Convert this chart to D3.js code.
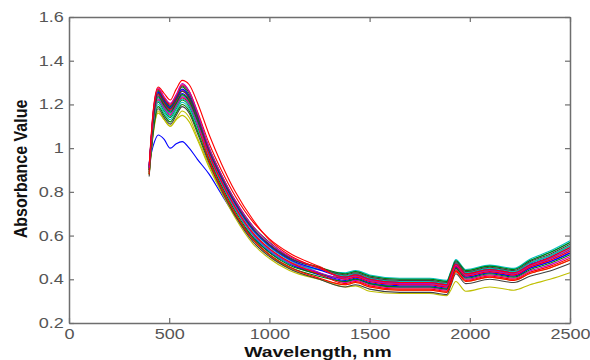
<!DOCTYPE html>
<html>
<head>
<meta charset="utf-8">
<script src="https://cdn.jsdelivr.net/npm/d3@7"></script>
<style>
  html, body { margin: 0; padding: 0; background: #fff; }
  svg { display: block; }
  text { font-family: "Liberation Sans", Arial, sans-serif; }
</style>
</head>
<body>
<svg id="chart" width="590" height="360"></svg>
<script>
// Wavelength grid (nm) shared by all spectra
const wavelengths = [400, 420, 445, 475, 505, 535, 565, 600, 640, 700, 760, 830, 920, 1000, 1100,
  1250, 1380, 1430, 1500, 1650, 1800, 1885, 1905, 1930, 1980, 2100, 2220, 2300, 2400, 2500];

// Individual spectra (absorbance values)
const specBlueLow = [0.93, 1.01, 1.06, 1.04, 1.00, 1.02, 1.03, 1.00, 0.95, 0.88, 0.79, 0.69, 0.59, 0.525, 0.47,
  0.42, 0.39, 0.40, 0.38, 0.365, 0.365, 0.355, 0.40, 0.455, 0.41, 0.43, 0.415, 0.45, 0.48, 0.52];
const specGreenA = [0.91, 1.15, 1.26, 1.22, 1.19, 1.23, 1.28, 1.24, 1.15, 1.00, 0.88, 0.76, 0.64, 0.57, 0.50,
  0.455, 0.415, 0.425, 0.405, 0.39, 0.39, 0.38, 0.42, 0.475, 0.43, 0.45, 0.435, 0.474, 0.508, 0.552];
const specRedTop = [0.92, 1.17, 1.28, 1.25, 1.22, 1.27, 1.31, 1.29, 1.21, 1.06, 0.93, 0.80, 0.67, 0.58, 0.51,
  0.45, 0.41, 0.42, 0.40, 0.385, 0.385, 0.375, 0.42, 0.47, 0.425, 0.445, 0.43, 0.465, 0.50, 0.545];
const specCyanC = [0.90, 1.12, 1.23, 1.19, 1.16, 1.20, 1.24, 1.21, 1.12, 0.97, 0.85, 0.73, 0.61, 0.54, 0.48,
  0.445, 0.425, 0.435, 0.415, 0.40, 0.40, 0.39, 0.43, 0.485, 0.44, 0.46, 0.445, 0.486, 0.522, 0.568];
const specMagentaD = [0.92, 1.14, 1.25, 1.21, 1.18, 1.22, 1.265, 1.23, 1.14, 0.98, 0.86, 0.74, 0.62, 0.55, 0.488,
  0.43, 0.385, 0.395, 0.375, 0.36, 0.36, 0.35, 0.39, 0.445, 0.40, 0.42, 0.405, 0.438, 0.466, 0.504];
const specYellowLow = [0.88, 1.07, 1.16, 1.13, 1.10, 1.13, 1.15, 1.12, 1.04, 0.91, 0.80, 0.69, 0.58, 0.51, 0.45,
  0.40, 0.365, 0.37, 0.345, 0.335, 0.335, 0.325, 0.35, 0.39, 0.345, 0.365, 0.35, 0.375, 0.40, 0.43];
const specBlackShort = [0.91, 1.14, 1.25, 1.21, 1.18, 1.22, 1.26, 1.23, 1.14, 0.99, 0.87, 0.75, 0.63, 0.56, 0.50];
const specBlueF = [0.91, 1.13, 1.24, 1.20, 1.17, 1.21, 1.25, 1.22, 1.13, 0.96, 0.84, 0.72, 0.60, 0.531, 0.472,
  0.428, 0.395, 0.405, 0.385, 0.37, 0.37, 0.36, 0.40, 0.455, 0.41, 0.43, 0.415, 0.45, 0.48, 0.52];
const specGreenE = [0.89, 1.10, 1.21, 1.17, 1.14, 1.18, 1.22, 1.19, 1.10, 0.95, 0.83, 0.71, 0.59, 0.522, 0.464,
  0.425, 0.405, 0.415, 0.395, 0.38, 0.38, 0.37, 0.41, 0.465, 0.42, 0.44, 0.425, 0.462, 0.494, 0.536];
const specRedB = [0.89, 1.16, 1.27, 1.23, 1.20, 1.24, 1.29, 1.26, 1.17, 1.02, 0.90, 0.78, 0.66, 0.585, 0.52,
  0.458, 0.40, 0.41, 0.39, 0.375, 0.375, 0.365, 0.405, 0.46, 0.415, 0.435, 0.42, 0.456, 0.487, 0.528];
const specCyanI = [0.90, 1.09, 1.20, 1.16, 1.13, 1.17, 1.21, 1.18, 1.09, 0.96, 0.84, 0.72, 0.60, 0.531, 0.472,
  0.443, 0.43, 0.44, 0.42, 0.405, 0.405, 0.395, 0.435, 0.49, 0.445, 0.465, 0.45, 0.492, 0.529, 0.576];
const specMagentaJ = [0.91, 1.165, 1.275, 1.235, 1.205, 1.245, 1.295, 1.26, 1.165, 1.00, 0.88, 0.76, 0.64, 0.567, 0.504,
  0.45, 0.405, 0.415, 0.395, 0.38, 0.38, 0.37, 0.41, 0.465, 0.42, 0.44, 0.425, 0.462, 0.494, 0.536];
const specYellowP = [0.88, 1.06, 1.17, 1.13, 1.10, 1.135, 1.17, 1.14, 1.05, 0.92, 0.80, 0.68, 0.56, 0.495, 0.44,
  0.40, 0.375, 0.385, 0.365, 0.35, 0.35, 0.34, 0.38, 0.435, 0.39, 0.41, 0.395, 0.426, 0.452, 0.488];
const specBlackG = [0.90, 1.155, 1.265, 1.225, 1.195, 1.235, 1.285, 1.25, 1.155, 0.99, 0.87, 0.75, 0.63, 0.558, 0.496,
  0.452, 0.42, 0.43, 0.41, 0.395, 0.395, 0.385, 0.425, 0.48, 0.435, 0.455, 0.44, 0.48, 0.515, 0.56];
const specBlueL = [0.92, 1.145, 1.255, 1.215, 1.185, 1.225, 1.27, 1.235, 1.145, 0.985, 0.865, 0.745, 0.625, 0.553, 0.492,
  0.443, 0.41, 0.42, 0.40, 0.385, 0.385, 0.375, 0.415, 0.47, 0.425, 0.445, 0.43, 0.468, 0.501, 0.544];
const specGreenK = [0.88, 1.08, 1.19, 1.15, 1.12, 1.16, 1.20, 1.17, 1.08, 0.94, 0.82, 0.70, 0.58, 0.513, 0.456,
  0.413, 0.39, 0.40, 0.38, 0.365, 0.365, 0.355, 0.395, 0.45, 0.405, 0.425, 0.41, 0.444, 0.473, 0.512];
const specRedH = [0.88, 1.11, 1.22, 1.18, 1.15, 1.19, 1.23, 1.20, 1.11, 0.94, 0.82, 0.70, 0.58, 0.513, 0.456,
  0.405, 0.375, 0.385, 0.365, 0.35, 0.35, 0.34, 0.38, 0.435, 0.39, 0.41, 0.395, 0.426, 0.452, 0.488];
const specCyanN = [0.89, 1.105, 1.215, 1.175, 1.145, 1.185, 1.225, 1.195, 1.11, 0.98, 0.86, 0.74, 0.62, 0.549, 0.488,
  0.445, 0.415, 0.425, 0.405, 0.39, 0.39, 0.38, 0.42, 0.475, 0.43, 0.45, 0.435, 0.474, 0.508, 0.552];
const specMagentaR = [0.91, 1.115, 1.225, 1.185, 1.155, 1.195, 1.235, 1.205, 1.115, 0.965, 0.845, 0.725, 0.605, 0.536, 0.476,
  0.43, 0.40, 0.41, 0.39, 0.375, 0.375, 0.365, 0.405, 0.46, 0.415, 0.435, 0.42, 0.456, 0.487, 0.528];
const specGrayO = [0.87, 1.07, 1.18, 1.14, 1.11, 1.15, 1.19, 1.16, 1.07, 0.93, 0.81, 0.69, 0.57, 0.504, 0.448,
  0.40, 0.365, 0.375, 0.355, 0.34, 0.34, 0.33, 0.37, 0.425, 0.38, 0.40, 0.385, 0.414, 0.438, 0.472];
const specRedM = [0.90, 1.135, 1.245, 1.205, 1.175, 1.215, 1.26, 1.225, 1.135, 0.97, 0.85, 0.73, 0.61, 0.54, 0.48,
  0.423, 0.38, 0.39, 0.37, 0.355, 0.355, 0.345, 0.385, 0.44, 0.395, 0.415, 0.40, 0.432, 0.459, 0.496];
const specGreenQ = [0.90, 1.125, 1.235, 1.195, 1.165, 1.205, 1.245, 1.215, 1.13, 0.99, 0.87, 0.75, 0.63, 0.558, 0.496,
  0.455, 0.425, 0.435, 0.415, 0.40, 0.40, 0.39, 0.43, 0.485, 0.44, 0.46, 0.445, 0.486, 0.522, 0.568];

const seriesList = [specBlueLow, specGreenA, specCyanC, specMagentaD, specYellowLow, specBlueF, specGreenE,
  specCyanI, specYellowP, specGrayO, specGreenK, specRedH, specCyanN, specMagentaR, specRedM, specGreenQ,
  specBlueL, specBlackShort, specBlackG, specRedB, specMagentaJ, specRedTop];
const seriesColors = ["#0000ff", "#008000", "#00bfbf", "#bf00bf", "#bfbf00", "#0000ff", "#008000",
  "#00bfbf", "#bfbf00", "#404040", "#008000", "#ff0000", "#00bfbf", "#bf00bf", "#ff0000", "#008000",
  "#0000ff", "#404040", "#404040", "#ff0000", "#bf00bf", "#ff0000"];

const xTicks = [0, 500, 1000, 1500, 2000, 2500];
const yTicks = [0.2, 0.4, 0.6, 0.8, 1, 1.2, 1.4, 1.6];
const xTitle = "Wavelength, nm";
const yTitle = "Absorbance Value";

const svg = d3.select("#chart");
const margin = { left: 69, right: 20, top: 17, bottom: 37 };
const W = 590, H = 360;
const x = d3.scaleLinear().domain([0, 2500]).range([margin.left, W - margin.right]);
const y = d3.scaleLinear().domain([0.2, 1.6]).range([H - margin.bottom, margin.top]);

const line = d3.line()
  .x((d, i) => x(wavelengths[i]))
  .y(d => y(d))
  .curve(d3.curveMonotoneX);

svg.append("g").selectAll("path")
  .data(seriesList)
  .join("path")
  .attr("fill", "none")
  .attr("stroke", (d, i) => seriesColors[i])
  .attr("stroke-width", 1.1)
  .attr("d", line);

const axisColor = "#6e6e6e";
const labelColor = "#555";
const sx = 1.29;

function styleAxis(g) {
  g.select(".domain").attr("stroke", axisColor).attr("stroke-width", 1.5);
  g.selectAll(".tick line").attr("stroke", axisColor).attr("stroke-width", 1.2);
  g.selectAll("text").attr("fill", labelColor).style("font-size", "14px")
    .style("font-family", '"Liberation Sans", Arial, sans-serif');
}

// bottom axis
const gx = svg.append("g").attr("transform", `translate(0,${y(0.2)})`)
  .call(d3.axisBottom(x).tickValues(xTicks).tickFormat(d3.format("d")).tickSizeInner(-5).tickSizeOuter(0).tickPadding(6));
styleAxis(gx);
gx.selectAll("text").attr("transform", `scale(${sx},1)`);

// top axis (ticks only)
const gxt = svg.append("g").attr("transform", `translate(0,${y(1.6)})`)
  .call(d3.axisTop(x).tickValues(xTicks).tickFormat("").tickSizeInner(-5).tickSizeOuter(0));
styleAxis(gxt);

// left axis
const gy = svg.append("g").attr("transform", `translate(${x(0)},0)`)
  .call(d3.axisLeft(y).tickValues(yTicks).tickFormat(d => d === 1 ? "1" : d3.format(".1f")(d)).tickSizeInner(-5).tickSizeOuter(0).tickPadding(4));
styleAxis(gy);
gy.selectAll("text").attr("transform", `scale(${sx},1)`);

// right axis (ticks only)
const gyr = svg.append("g").attr("transform", `translate(${x(2500)},0)`)
  .call(d3.axisRight(y).tickValues(yTicks).tickFormat("").tickSizeInner(-5).tickSizeOuter(0));
styleAxis(gyr);

// axis titles
svg.append("text")
  .attr("transform", `translate(318,357) scale(${sx},1)`)
  .attr("text-anchor", "middle")
  .attr("fill", "#111")
  .style("font-size", "15px")
  .style("font-weight", "bold")
  .text(xTitle);

svg.append("text")
  .attr("transform", "translate(20,169) rotate(-90) scale(1,1.2)")
  .attr("text-anchor", "middle")
  .attr("dy", "0.35em")
  .attr("fill", "#111")
  .style("font-size", "16px")
  .style("font-weight", "bold")
  .text(yTitle);
</script>
</body>
</html>
